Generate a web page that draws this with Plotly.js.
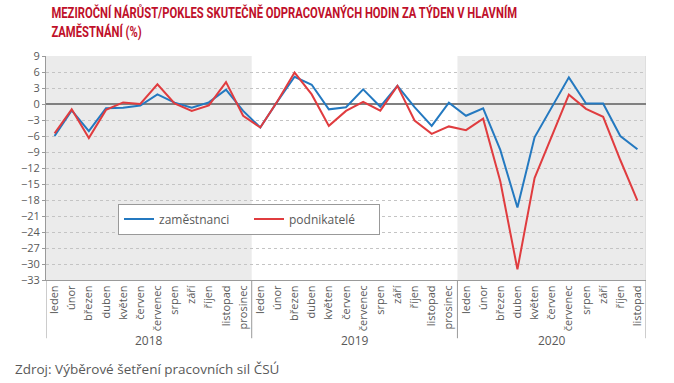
<!DOCTYPE html>
<html>
<head>
<meta charset="utf-8">
<script src="https://cdn.plot.ly/plotly-3.0.1.min.js"></script>
<style>html,body{margin:0;padding:0;background:#fff;}#chart{width:674px;height:383px;}</style>
</head>
<body>
<div id="chart"></div>
<script>
const years = ["2018", "2019", "2020"];
const months = ["leden","únor","březen","duben","květen","červen","červenec","srpen","září","říjen","listopad","prosinec"];
const monthsPerYear = [12, 12, 11];
const zamestnanci = [-6.0,-1.2,-5.1,-0.8,-0.7,-0.3,1.8,0.25,-0.7,0.3,2.7,-1.3,
                     -4.4,0.5,5.1,3.6,-1.0,-0.6,2.75,-0.5,3.4,-0.6,-4.1,0.25,
                     -2.2,-0.8,-8.6,-19.4,-6.25,-0.6,5.0,0.1,0.1,-6.0,-8.5];
const podnikatele = [-5.5,-1.0,-6.4,-1.1,0.3,0.0,3.7,0.1,-1.3,-0.25,4.1,-2.2,
                     -4.4,0.5,5.9,1.8,-4.1,-1.3,0.4,-1.25,3.4,-3.1,-5.6,-4.2,
                     -4.9,-2.75,-14.5,-31.0,-13.9,-6.0,1.75,-0.9,-2.4,-10.5,-18.1];
const seriesNames = ["zaměstnanci", "podnikatelé"];

const idx = [], tickText = [];
monthsPerYear.forEach((n, yi) => { for (let m = 0; m < n; m++) { idx.push(idx.length); tickText.push(months[m]); } });

const grey = "#595959";
const fontFam = "Open Sans, Noto Sans, sans-serif";

const bounds = [-0.5];
monthsPerYear.forEach(n => bounds.push(bounds[bounds.length-1] + n));

const shapes = [];
[0, 2].forEach(i => shapes.push({type:"rect", xref:"x", yref:"paper", x0:bounds[i], x1:bounds[i+1], y0:0, y1:1, fillcolor:"#ebebeb", line:{width:0}, layer:"below"}));
bounds.forEach(b => shapes.push({type:"line", xref:"x", yref:"paper", x0:b, x1:b, y0:-0.26, y1:0, line:{color:"#9a9a9a", width:1}}));
shapes.push({type:"line", xref:"x", yref:"paper", x0:bounds[3], x1:bounds[3], y0:0, y1:1, line:{color:"#d0d0d0", width:1}, layer:"below"});

const annotations = years.map((y, i) => ({
  text: y, xref:"x", yref:"paper", x:(bounds[i]+bounds[i+1])/2, y:-0.268, showarrow:false,
  font:{family:fontFam, size:12, color:grey}, xanchor:"center", yanchor:"middle"
}));
annotations.push({text:"Zdroj: Výběrové šetření pracovních sil ČSÚ", xref:"paper", yref:"paper",
  x:-0.055, y:-0.397, xanchor:"left", yanchor:"middle", showarrow:false,
  font:{family:fontFam, size:13.5, color:grey}});

const data = [
  {x: idx, y: zamestnanci, name: seriesNames[0], type:"scatter", mode:"lines", line:{color:"#2479c0", width:2}},
  {x: idx, y: podnikatele, name: seriesNames[1], type:"scatter", mode:"lines", line:{color:"#e03c3f", width:2}}
];

const layout = {
  width:674, height:383,
  margin:{l:46, r:28, t:56, b:103},
  paper_bgcolor:"#fff", plot_bgcolor:"rgba(0,0,0,0)",
  title:{text:"MEZIROČNÍ NÁRŮST/POKLES SKUTEČNĚ ODPRACOVANÝCH HODIN ZA TÝDEN V HLAVNÍM<br>ZAMĚSTNÁNÍ (%)",
    x:0.009, xanchor:"left", xref:"paper", yref:"container", y:0.953, yanchor:"middle",
    font:{family:"Roboto, sans-serif", size:15, color:"#c0102a", weight:"bold"}},
  showlegend:true,
  legend:{orientation:"h", x:0.12, y:0.272, xanchor:"left", yanchor:"middle", bgcolor:"#fff",
    bordercolor:"#999", borderwidth:1, font:{family:fontFam, size:12, color:grey}, entrywidth:85, entrywidthmode:"pixels"},
  xaxis:{range:[-0.5, idx.length-0.5], tickmode:"array", tickvals:idx, ticktext:tickText, tickangle:-90,
    tickfont:{family:fontFam, size:11, color:grey}, showgrid:false, zeroline:false, showline:true, linecolor:"#9a9a9a", ticks:"", fixedrange:true},
  yaxis:{range:[-33, 9], tick0:0, dtick:3, showgrid:true, gridcolor:"#c4c4c4", griddash:"dot", gridwidth:1,
    zeroline:true, zerolinecolor:"#808080", zerolinewidth:1.5, showline:true, linecolor:"#9a9a9a",
    ticks:"outside", ticklen:3, tickcolor:"#9a9a9a", tickfont:{family:fontFam, size:11, color:grey}},
  shapes: shapes,
  annotations: annotations
};

Plotly.newPlot("chart", data, layout, {staticPlot:true}).then(gd => {
  // condense the title horizontally to mimic the reference's condensed typeface
  const t = gd.querySelector(".gtitle");
  if (t) {
    const bb = t.getBBox();
    const target = 466;
    if (bb.width > target) {
      const s = target / bb.width;
      const x0 = bb.x;
      t.setAttribute("transform", "translate(" + x0 + ",0) scale(" + s + ",1) translate(" + (-x0) + ",0)");
    }
  }
});
</script>
</body>
</html>
